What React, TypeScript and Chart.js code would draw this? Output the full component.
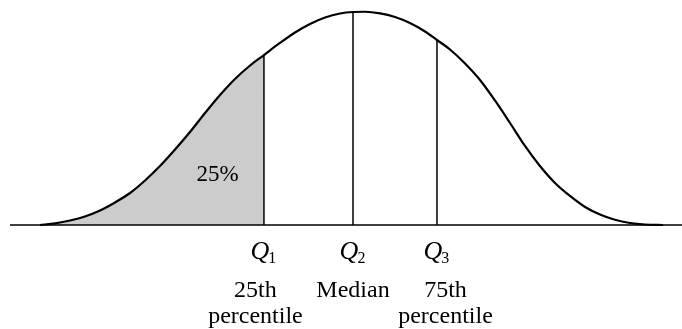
import React, { useEffect, useRef } from "react";
import { Chart, registerables } from "chart.js";

Chart.register(...registerables);

// Curve: standardized position (z) and density
const curveZ = [
  -2.408, -2.292, -2.177, -2.062, -1.946, -1.831, -1.715, -1.6, -1.485, -1.369,
  -1.254, -1.138, -1.023, -0.908, -0.792, -0.685, -0.562, -0.446, -0.331, -0.215,
  -0.1, 0, 0.092, 0.208, 0.323, 0.438, 0.554, 0.646, 0.746, 0.862,
  0.977, 1.092, 1.208, 1.323, 1.438, 1.554, 1.669, 1.785, 1.9, 2.015,
  2.131, 2.246, 2.385,
];
const curveDensity = [
  0, 0.0032, 0.0085, 0.016, 0.0272, 0.0423, 0.0601, 0.0836, 0.1108, 0.1418,
  0.1746, 0.2103, 0.2441, 0.2742, 0.2995, 0.3192, 0.3418, 0.3615, 0.3775, 0.3897,
  0.3972, 0.4, 0.4004, 0.3975, 0.3906, 0.3793, 0.3634, 0.3474, 0.3296, 0.3033,
  0.2723, 0.2338, 0.1915, 0.1484, 0.1108, 0.0789, 0.0545, 0.0338, 0.0197, 0.0098,
  0.0038, 0.0009, 0,
];

// Quartiles
const quartileZ = [-0.685, 0, 0.646];
const quartileHeight = [0.3192, 0.4, 0.3474];
const quartileSub = ["1", "2", "3"];
const quartileLabels = [["25th", "percentile"], ["Median"], ["75th", "percentile"]];

// Shaded area label
const shadedLabel = "25%";
const shadedLabelZ = -1.042;
const shadedLabelDensity = 0.083;

// Axis domain
const X_MIN = -2.6385;
const X_MAX = 2.5308;
const Y_MAX = 0.4225;

const SERIF = "'Liberation Serif', 'Times New Roman', serif";

const labelPlugin = {
  id: "quartileLabels",
  afterDatasetsDraw(chart: any) {
    const ctx = chart.ctx as CanvasRenderingContext2D;
    const xs = chart.scales.x;
    const ys = chart.scales.y;
    const base = ys.getPixelForValue(0);
    ctx.save();
    ctx.fillStyle = "#000";
    ctx.textBaseline = "alphabetic";

    quartileZ.forEach((q, i) => {
      const px = xs.getPixelForValue(q);
      ctx.font = `italic 26px ${SERIF}`;
      const qw = ctx.measureText("Q").width;
      ctx.font = `16px ${SERIF}`;
      const sw = ctx.measureText(quartileSub[i]).width;
      const left = px - (qw + sw) / 2;
      ctx.textAlign = "left";
      ctx.font = `italic 26px ${SERIF}`;
      ctx.fillText("Q", left, base + 34);
      ctx.font = `16px ${SERIF}`;
      ctx.fillText(quartileSub[i], left + qw - 1, base + 38);

      ctx.font = `24px ${SERIF}`;
      ctx.textAlign = "center";
      const offset = (i - 1) * 8.5;
      quartileLabels[i].forEach((line, j) => {
        ctx.fillText(line, px + offset, base + 72 + j * 25.5);
      });
    });

    ctx.font = `23px ${SERIF}`;
    ctx.textAlign = "center";
    ctx.fillText(
      shadedLabel,
      xs.getPixelForValue(shadedLabelZ),
      ys.getPixelForValue(shadedLabelDensity)
    );
    ctx.restore();
  },
};

export default function App() {
  const ref = useRef<HTMLCanvasElement | null>(null);

  useEffect(() => {
    document.body.style.margin = "0";
    const canvas = ref.current;
    if (!canvas) return;

    const curve = curveZ.map((z, i) => ({ x: z, y: curveDensity[i] }));
    const q1 = quartileZ[0];

    const lineCommon = {
      pointRadius: 0,
      fill: false,
      clip: false as any,
    };

    const datasets: any[] = [
      {
        ...lineCommon,
        data: curve,
        borderColor: "#000",
        borderWidth: 2.2,
        cubicInterpolationMode: "monotone",
        order: 0,
      },
      ...quartileZ.map((q, i) => ({
        ...lineCommon,
        data: [
          { x: q, y: 0 },
          { x: q, y: quartileHeight[i] },
        ],
        borderColor: "#000",
        borderWidth: 1.5,
        order: 1,
      })),
      {
        ...lineCommon,
        data: [
          { x: X_MIN, y: 0 },
          { x: X_MAX, y: 0 },
        ],
        borderColor: "#000",
        borderWidth: 1.6,
        order: 2,
      },
      {
        ...lineCommon,
        data: curve,
        borderWidth: 0,
        borderColor: "rgba(0,0,0,0)",
        backgroundColor: "#cccccc",
        fill: "origin",
        cubicInterpolationMode: "monotone",
        segment: {
          backgroundColor: (c: any) =>
            c.p1.parsed.x <= q1 + 1e-9 ? "#cccccc" : "rgba(0,0,0,0)",
        },
        order: 3,
      },
    ];

    const chart = new Chart(canvas, {
      type: "line",
      data: { datasets },
      options: {
        animation: false,
        responsive: false,
        events: [],
        layout: { padding: { left: 10, right: 0, top: 0, bottom: 104 } },
        scales: {
          x: { type: "linear", min: X_MIN, max: X_MAX, display: false },
          y: { type: "linear", min: 0, max: Y_MAX, display: false },
        },
        plugins: {
          legend: { display: false },
          tooltip: { enabled: false },
        },
      },
      plugins: [labelPlugin],
    });

    return () => chart.destroy();
  }, []);

  return (
    <div style={{ width: 682, height: 329, background: "#fff" }}>
      <canvas ref={ref} width={682} height={329} style={{ display: "block" }} />
    </div>
  );
}
